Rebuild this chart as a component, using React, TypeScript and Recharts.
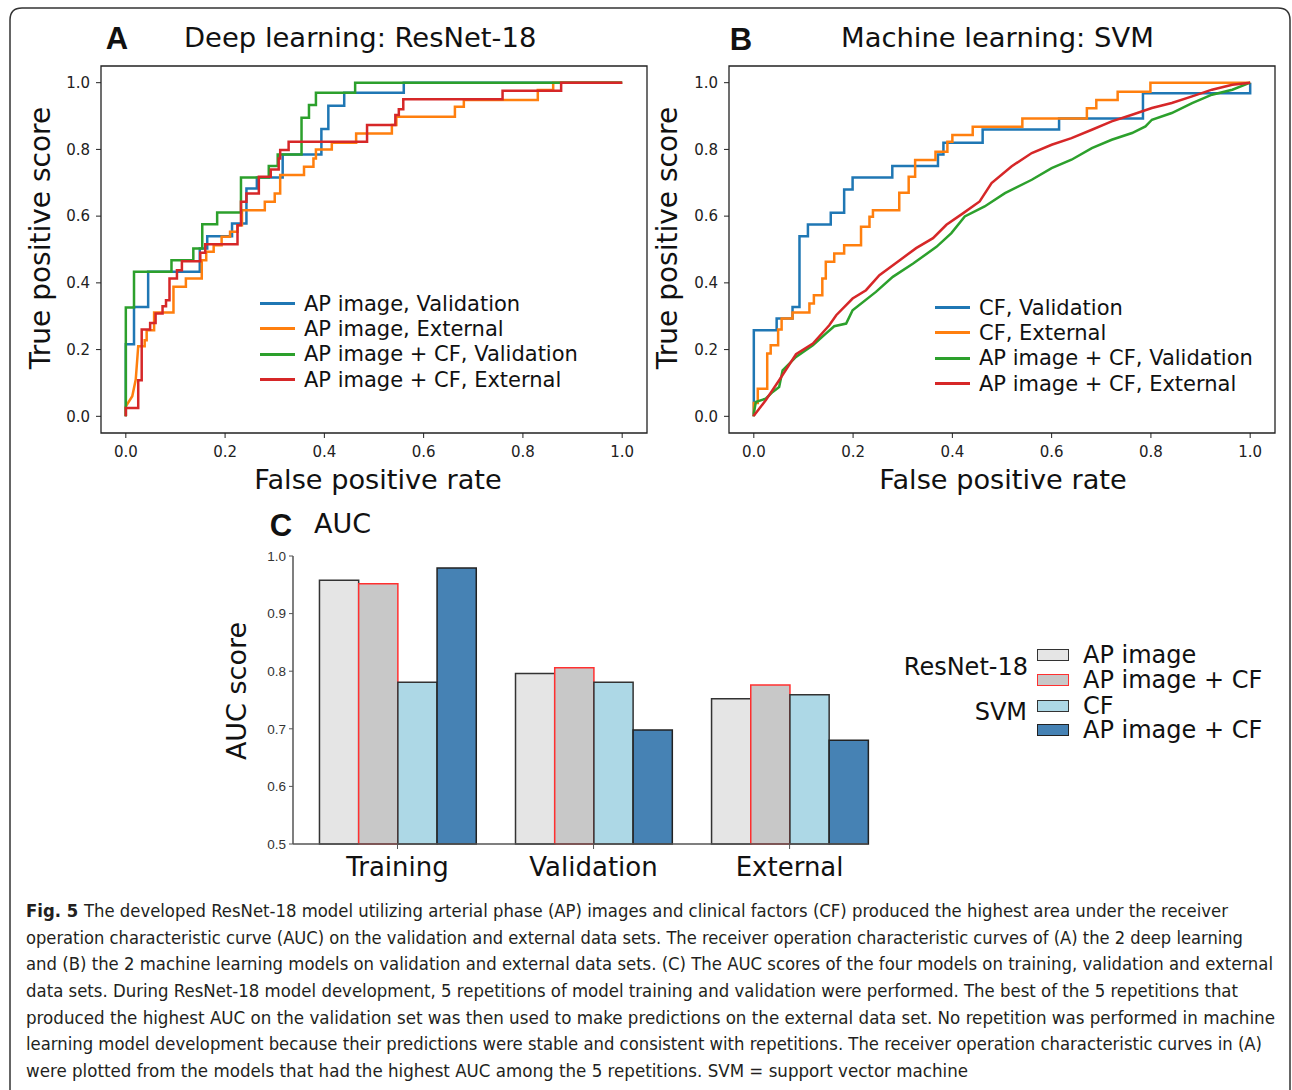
import React from 'react';
import { LineChart, Line, XAxis, YAxis, ReferenceArea, Legend, BarChart, Bar } from 'recharts';

const FONT = '"DejaVu Sans", Verdana, sans-serif';
const CAPTION_FONT = '"Liberation Sans Narrow", "DejaVu Sans Condensed", "Liberation Sans", sans-serif';

// ROC curves, [fpr, tpr] (ResNet-18)
const resnetApValidation: [number, number][] = [
  [0, 0], [0, 0.216], [0.0165, 0.216], [0.0165, 0.328], [0.045, 0.328], [0.045, 0.433],
  [0.149, 0.433], [0.149, 0.503], [0.164, 0.503], [0.164, 0.54], [0.214, 0.54], [0.214, 0.578],
  [0.243, 0.578], [0.243, 0.683], [0.264, 0.683], [0.264, 0.716], [0.316, 0.716], [0.316, 0.785],
  [0.394, 0.785], [0.394, 0.861], [0.408, 0.861], [0.408, 0.931], [0.44, 0.931], [0.44, 0.97],
  [0.56, 0.97], [0.56, 1], [1, 1],
];
const resnetApExternal: [number, number][] = [
  [0, 0], [0, 0.03], [0.013, 0.06], [0.02, 0.11], [0.025, 0.21], [0.038, 0.21], [0.038, 0.228],
  [0.042, 0.228], [0.042, 0.258], [0.057, 0.258], [0.057, 0.311], [0.096, 0.311], [0.096, 0.388],
  [0.121, 0.388], [0.121, 0.413], [0.153, 0.413], [0.153, 0.468], [0.162, 0.468], [0.162, 0.493],
  [0.177, 0.493], [0.177, 0.513], [0.193, 0.513], [0.193, 0.538], [0.21, 0.538], [0.21, 0.553],
  [0.225, 0.553], [0.225, 0.573], [0.234, 0.573], [0.234, 0.618], [0.28, 0.618], [0.28, 0.643],
  [0.3, 0.643], [0.3, 0.668], [0.311, 0.668], [0.311, 0.723], [0.359, 0.723], [0.359, 0.748],
  [0.378, 0.748], [0.378, 0.773], [0.383, 0.773], [0.383, 0.8], [0.415, 0.8], [0.415, 0.82],
  [0.464, 0.82], [0.464, 0.848], [0.536, 0.848], [0.536, 0.873], [0.545, 0.873], [0.545, 0.898],
  [0.663, 0.898], [0.663, 0.928], [0.681, 0.928], [0.681, 0.948], [0.83, 0.948], [0.83, 0.978],
  [0.861, 0.978], [0.861, 1], [1, 1],
];
const resnetApCfValidation: [number, number][] = [
  [0, 0], [0, 0.326], [0.0165, 0.326], [0.0165, 0.433], [0.092, 0.433], [0.092, 0.468],
  [0.136, 0.468], [0.136, 0.503], [0.154, 0.503], [0.154, 0.576], [0.184, 0.576], [0.184, 0.611],
  [0.232, 0.611], [0.232, 0.716], [0.288, 0.716], [0.288, 0.75], [0.306, 0.75], [0.306, 0.785],
  [0.354, 0.785], [0.354, 0.895], [0.369, 0.895], [0.369, 0.933], [0.383, 0.933], [0.383, 0.97],
  [0.462, 0.97], [0.462, 1], [1, 1],
];
const resnetApCfExternal: [number, number][] = [
  [0, 0], [0, 0.025], [0.025, 0.025], [0.025, 0.108], [0.032, 0.108], [0.032, 0.26], [0.049, 0.26],
  [0.049, 0.28], [0.06, 0.28], [0.06, 0.308], [0.074, 0.308], [0.074, 0.33], [0.081, 0.33],
  [0.081, 0.348], [0.088, 0.348], [0.088, 0.413], [0.103, 0.413], [0.103, 0.438], [0.113, 0.438],
  [0.113, 0.465], [0.15, 0.465], [0.15, 0.49], [0.16, 0.49], [0.16, 0.516], [0.225, 0.516],
  [0.225, 0.573], [0.232, 0.573], [0.232, 0.643], [0.243, 0.643], [0.243, 0.668], [0.268, 0.668],
  [0.268, 0.718], [0.292, 0.718], [0.292, 0.74], [0.308, 0.74], [0.308, 0.773], [0.311, 0.773],
  [0.311, 0.798], [0.328, 0.798], [0.328, 0.823], [0.486, 0.823], [0.486, 0.873], [0.543, 0.873],
  [0.543, 0.903], [0.55, 0.903], [0.55, 0.92], [0.559, 0.92], [0.559, 0.95], [0.759, 0.95],
  [0.759, 0.976], [0.877, 0.976], [0.877, 1], [1, 1],
];

// ROC curves (SVM)
const svmCfValidation: [number, number][] = [
  [0, 0], [0, 0.258], [0.046, 0.258], [0.046, 0.293], [0.078, 0.293], [0.078, 0.328], [0.092, 0.328],
  [0.092, 0.54], [0.109, 0.54], [0.109, 0.575], [0.155, 0.575], [0.155, 0.61], [0.182, 0.61],
  [0.182, 0.68], [0.199, 0.68], [0.199, 0.716], [0.279, 0.716], [0.279, 0.75], [0.371, 0.75],
  [0.371, 0.785], [0.382, 0.785], [0.382, 0.82], [0.461, 0.82], [0.461, 0.86], [0.615, 0.86],
  [0.615, 0.893], [0.784, 0.893], [0.784, 0.968], [1, 0.968], [1, 1],
];
const svmCfExternal: [number, number][] = [
  [0, 0], [0, 0.04], [0.008, 0.04], [0.008, 0.083], [0.027, 0.083], [0.027, 0.188], [0.034, 0.188],
  [0.034, 0.213], [0.049, 0.213], [0.049, 0.26], [0.056, 0.26], [0.056, 0.293], [0.078, 0.293],
  [0.078, 0.311], [0.112, 0.311], [0.112, 0.338], [0.121, 0.338], [0.121, 0.363], [0.138, 0.363],
  [0.138, 0.413], [0.145, 0.413], [0.145, 0.463], [0.162, 0.463], [0.162, 0.488], [0.182, 0.488],
  [0.182, 0.513], [0.216, 0.513], [0.216, 0.568], [0.233, 0.568], [0.233, 0.598], [0.24, 0.598],
  [0.24, 0.618], [0.293, 0.618], [0.293, 0.67], [0.312, 0.67], [0.312, 0.718], [0.325, 0.718],
  [0.325, 0.768], [0.366, 0.768], [0.366, 0.793], [0.39, 0.793], [0.39, 0.823], [0.4, 0.823],
  [0.4, 0.843], [0.441, 0.843], [0.441, 0.868], [0.541, 0.868], [0.541, 0.893], [0.671, 0.893],
  [0.671, 0.923], [0.69, 0.923], [0.69, 0.948], [0.733, 0.948], [0.733, 0.973], [0.799, 0.973],
  [0.799, 1], [1, 1],
];
const svmApCfValidation: [number, number][] = [
  [0, 0], [0, 0.008], [0.004, 0.043], [0.024, 0.053], [0.038, 0.073], [0.051, 0.088], [0.058, 0.138],
  [0.085, 0.178], [0.119, 0.213], [0.145, 0.248], [0.162, 0.27], [0.186, 0.278], [0.199, 0.318],
  [0.246, 0.373], [0.28, 0.418], [0.321, 0.458], [0.368, 0.508], [0.398, 0.549], [0.425, 0.599],
  [0.465, 0.629], [0.506, 0.669], [0.56, 0.709], [0.6, 0.744], [0.64, 0.769], [0.681, 0.804],
  [0.721, 0.829], [0.762, 0.849], [0.789, 0.869], [0.802, 0.889], [0.842, 0.909], [0.883, 0.939],
  [0.923, 0.964], [0.964, 0.979], [0.99, 0.994], [1, 1],
];
const svmApCfExternal: [number, number][] = [
  [0, 0], [0, 0.002], [0.024, 0.048], [0.051, 0.108], [0.085, 0.186], [0.119, 0.218], [0.152, 0.273],
  [0.166, 0.303], [0.199, 0.353], [0.226, 0.378], [0.253, 0.423], [0.294, 0.468], [0.327, 0.504],
  [0.361, 0.534], [0.388, 0.574], [0.422, 0.609], [0.455, 0.644], [0.479, 0.699], [0.519, 0.749],
  [0.56, 0.789], [0.6, 0.814], [0.64, 0.834], [0.681, 0.859], [0.721, 0.884], [0.762, 0.904],
  [0.802, 0.924], [0.842, 0.939], [0.883, 0.959], [0.923, 0.979], [0.964, 0.994], [1, 1],
];

const rocTicks = [0, 0.2, 0.4, 0.6, 0.8, 1.0];

// AUC bars (panel C)
const aucGroups = ['Training', 'Validation', 'External'];
const aucResnetAp = [0.958, 0.796, 0.752];
const aucResnetApCf = [0.952, 0.806, 0.776];
const aucSvmCf = [0.781, 0.781, 0.759];
const aucSvmApCf = [0.979, 0.698, 0.68];
const aucTicks = [0.5, 0.6, 0.7, 0.8, 0.9, 1.0];

const captionLines = [
  'The developed ResNet-18 model utilizing arterial phase (AP) images and clinical factors (CF) produced the highest area under the receiver',
  'operation characteristic curve (AUC) on the validation and external data sets. The receiver operation characteristic curves of (A) the 2 deep learning',
  'and (B) the 2 machine learning models on validation and external data sets. (C) The AUC scores of the four models on training, validation and external',
  'data sets. During ResNet-18 model development, 5 repetitions of model training and validation were performed. The best of the 5 repetitions that',
  'produced the highest AUC on the validation set was then used to make predictions on the external data set. No repetition was performed in machine',
  'learning model development because their predictions were stable and consistent with repetitions. The receiver operation characteristic curves in (A)',
  'were plotted from the models that had the highest AUC among the 5 repetitions. SVM = support vector machine',
];
const captionWidths = [1202, 1217, 1247, 1212, 1249, 1236, 942];

const COLORS = { blue: '#1f77b4', orange: '#ff7f0e', green: '#2ca02c', red: '#d62728' };

const toPoints = (pts: [number, number][]) => pts.map(([x, y]) => ({ x, y }));

const aucData = aucGroups.map((g, i) => ({
  pos: i,
  group: g,
  resnetAp: aucResnetAp[i],
  resnetApCf: aucResnetApCf[i],
  svmCf: aucSvmCf[i],
  svmApCf: aucSvmApCf[i],
}));

const barSeries = [
  { key: 'resnetAp', label: 'AP image', fill: '#e5e5e5', stroke: '#333333' },
  { key: 'resnetApCf', label: 'AP image + CF', fill: '#c8c8c8', stroke: '#ff3030' },
  { key: 'svmCf', label: 'CF', fill: '#add8e6', stroke: '#333333' },
  { key: 'svmApCf', label: 'AP image + CF', fill: '#4682b4', stroke: '#222222' },
];

type Curve = { name: string; color: string; pts: [number, number][] };

const RocLegend = ({ payload, order }: any) => {
  const items = [...(payload || [])].sort(
    (a: any, b: any) => order.indexOf(a.value) - order.indexOf(b.value)
  );
  return (
    <div style={{ background: '#fff' }}>
      {items.map((p: any) => (
        <div key={p.value} style={{ display: 'flex', alignItems: 'center', height: 25.3 }}>
          <span style={{ display: 'inline-block', width: 35, height: 3, background: p.color, marginRight: 9 }} />
          <span style={{ font: `21px ${FONT}`, color: '#111', whiteSpace: 'nowrap' }}>{p.value}</span>
        </div>
      ))}
    </div>
  );
};

const tickStyle = { fontFamily: FONT, fontSize: 15, fill: '#222' };

const RocPanel = ({ curves, left, plotLeft, legendLeft, legendTop }: {
  curves: Curve[]; left: number; plotLeft: number; legendLeft: number; legendTop: number;
}) => {
  const width = 672;
  const yAxisWidth = 60;
  const plotRight = 546 + plotLeft;
  return (
    <div style={{ position: 'absolute', left, top: 0 }}>
      <LineChart
        width={width}
        height={500}
        margin={{ top: 66, left: plotLeft - yAxisWidth, right: width - plotRight, bottom: 37 }}
      >
        <ReferenceArea x1={-0.05} x2={1.05} y1={-0.05} y2={1.05} fill="none" fillOpacity={0} stroke="#222" strokeWidth={1.3} />
        <XAxis
          type="number"
          dataKey="x"
          domain={[-0.05, 1.05]}
          ticks={rocTicks}
          tickFormatter={(v: number) => v.toFixed(1)}
          height={30}
          axisLine={false}
          tickLine={{ stroke: '#222' }}
          tickSize={5}
          tickMargin={8}
          tick={tickStyle}
        />
        <YAxis
          type="number"
          domain={[-0.05, 1.05]}
          ticks={rocTicks}
          tickFormatter={(v: number) => v.toFixed(1)}
          width={yAxisWidth}
          axisLine={false}
          tickLine={{ stroke: '#222' }}
          tickSize={5}
          tickMargin={6}
          tick={tickStyle}
        />
        {curves.map((c) => (
          <Line
            key={c.name}
            data={toPoints(c.pts)}
            dataKey="y"
            name={c.name}
            type="linear"
            stroke={c.color}
            strokeWidth={2.5}
            dot={false}
            isAnimationActive={false}
          />
        ))}
        <Legend
          layout="vertical"
          align="center"
          verticalAlign="middle"
          content={<RocLegend order={curves.map((c) => c.name)} />}
          wrapperStyle={{ left: legendLeft, top: legendTop, width: 330 }}
        />
      </LineChart>
    </div>
  );
};

const AucLegend = () => (
  <div style={{ position: 'absolute', left: 880, top: 640, width: 400, height: 100, font: `24px ${FONT}`, color: '#111' }}>
    <div style={{ position: 'absolute', right: 400 - 148, top: 27 - 13, lineHeight: '26px', whiteSpace: 'nowrap' }}>ResNet-18</div>
    <div style={{ position: 'absolute', right: 400 - 147, top: 72 - 13, lineHeight: '26px', whiteSpace: 'nowrap' }}>SVM</div>
    {barSeries.map((s, i) => {
      const cy = [15, 40, 66, 90][i];
      return (
        <React.Fragment key={s.key + i}>
          <div style={{
            position: 'absolute', left: 157, top: cy - 6, width: 30, height: 10,
            background: s.fill, border: `1.5px solid ${s.stroke}`,
          }} />
          <div style={{ position: 'absolute', left: 203, top: cy - 12, lineHeight: '24px', whiteSpace: 'nowrap' }}>{s.label}</div>
        </React.Fragment>
      );
    })}
  </div>
);

const AucPanel = () => (
  <div style={{ position: 'absolute', left: 200, top: 530 }}>
    <BarChart
      width={720}
      height={360}
      data={aucData}
      barGap={0}
      barSize={39.2}
      margin={{ top: 26, left: 43, right: 52, bottom: 6 }}
    >
      <XAxis
        type="number"
        dataKey="pos"
        domain={[-0.533, 2.4]}
        ticks={[0, 1, 2]}
        tickFormatter={(v: number) => aucGroups[v] ?? ''}
        height={40}
        axisLine={{ stroke: '#555', strokeWidth: 1.5 }}
        tickLine={{ stroke: '#555' }}
        tickSize={5}
        tickMargin={9}
        tick={{ fontFamily: FONT, fontSize: 26, fill: '#111' }}
      />
      <YAxis
        type="number"
        domain={[0.5, 1.0]}
        ticks={aucTicks}
        tickFormatter={(v: number) => v.toFixed(1)}
        width={50}
        axisLine={{ stroke: '#555', strokeWidth: 1.5 }}
        tickLine={{ stroke: '#555' }}
        tickSize={4}
        tickMargin={3}
        tick={{ fontFamily: '"Liberation Sans", Arial, sans-serif', fontSize: 13.5, fill: '#333' }}
      />
      {barSeries.map((s) => (
        <Bar
          key={s.key}
          dataKey={s.key}
          name={s.label}
          fill={s.fill}
          stroke={s.stroke}
          strokeWidth={1.5}
          isAnimationActive={false}
        />
      ))}
    </BarChart>
  </div>
);

const Overlay = () => (
  <svg width={1292} height={1090} style={{ position: 'absolute', left: 0, top: 0 }}>
    <path d="M 10 1090 L 10 20 Q 10 8 22 8 L 1278 8 Q 1290 8 1290 20 L 1290 1090" fill="none" stroke="#333" strokeWidth={1.5} />
    <g style={{ fontFamily: '"Liberation Sans", Arial, sans-serif', fontWeight: 'bold', fontSize: 31 }} fill="#111">
      <text x={117} y={49} textAnchor="middle">A</text>
      <text x={741} y={50} textAnchor="middle">B</text>
      <text x={281} y={536} textAnchor="middle">C</text>
    </g>
    <g style={{ fontFamily: FONT, fontSize: 27.4 }} fill="#111">
      <text x={184} y={47}>Deep learning: ResNet-18</text>
      <text x={841} y={47}>Machine learning: SVM</text>
      <text x={314} y={533} style={{ fontSize: 27 }}>AUC</text>
    </g>
    <g style={{ fontFamily: FONT, fontSize: 27.2 }} fill="#111" textAnchor="middle" dominantBaseline="central">
      <text x={378} y={479}>False positive rate</text>
      <text x={1003} y={479}>False positive rate</text>
      <text transform="translate(40,238) rotate(-90)" style={{ fontSize: 28 }}>True positive score</text>
      <text transform="translate(667,238) rotate(-90)" style={{ fontSize: 28 }}>True positive score</text>
      <text transform="translate(236,691) rotate(-90)" style={{ fontSize: 27 }}>AUC score</text>
    </g>
    <g style={{ fontFamily: CAPTION_FONT, fontSize: 18 }} fill="#231f20">
      {captionLines.map((line, i) => (
        <text key={i} x={26} y={917 + i * 26.67} textLength={captionWidths[i]} lengthAdjust="spacingAndGlyphs">
          {i === 0 ? <tspan fontWeight="bold">Fig. 5 </tspan> : null}
          {line}
        </text>
      ))}
    </g>
  </svg>
);

export default function App() {
  const resnetCurves: Curve[] = [
    { name: 'AP image, Validation', color: COLORS.blue, pts: resnetApValidation },
    { name: 'AP image, External', color: COLORS.orange, pts: resnetApExternal },
    { name: 'AP image + CF, Validation', color: COLORS.green, pts: resnetApCfValidation },
    { name: 'AP image + CF, External', color: COLORS.red, pts: resnetApCfExternal },
  ];
  const svmCurves: Curve[] = [
    { name: 'CF, Validation', color: COLORS.blue, pts: svmCfValidation },
    { name: 'CF, External', color: COLORS.orange, pts: svmCfExternal },
    { name: 'AP image + CF, Validation', color: COLORS.green, pts: svmApCfValidation },
    { name: 'AP image + CF, External', color: COLORS.red, pts: svmApCfExternal },
  ];
  return (
    <div style={{ position: 'absolute', left: 0, top: 0, width: 1292, height: 1090, background: '#fff', overflow: 'hidden' }}>
      <Overlay />
      <RocPanel curves={resnetCurves} left={0} plotLeft={101} legendLeft={260} legendTop={291} />
      <RocPanel curves={svmCurves} left={620} plotLeft={109} legendLeft={315} legendTop={295} />
      <AucPanel />
      <AucLegend />
    </div>
  );
}
